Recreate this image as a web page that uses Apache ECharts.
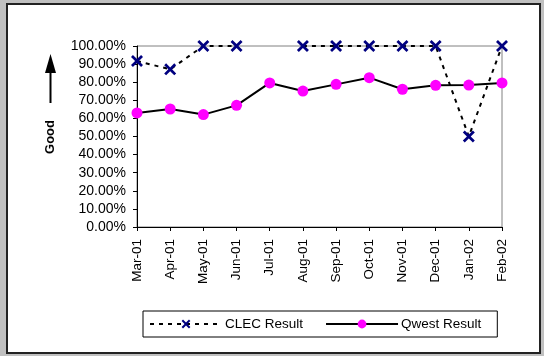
<!DOCTYPE html>
<html>
<head>
<meta charset="utf-8">
<script src="https://cdn.jsdelivr.net/npm/echarts@6/dist/echarts.min.js"></script>
<style>
html,body{margin:0;padding:0;background:#c0c0c0;}
#main{width:544px;height:356px;}
</style>
</head>
<body>
<div id="main"></div>
<script>
var months = ['Mar-01','Apr-01','May-01','Jun-01','Jul-01','Aug-01','Sep-01','Oct-01','Nov-01','Dec-01','Jan-02','Feb-02'];
var clecResult = [91.7, 87.1, 100, 100, null, 100, 100, 100, 100, 100, 50, 100];
var qwestResult = [63.0, 65.2, 62.1, 67.2, 79.6, 75.1, 78.8, 82.5, 76.1, 78.3, 78.4, 79.6];
var yTicks = [0, 10, 20, 30, 40, 50, 60, 70, 80, 90, 100];

var font = 'Arial, "Liberation Sans", sans-serif';
var crossPath = 'path://M0,1.6L1.6,0L5,3.4L8.4,0L10,1.6L6.6,5L10,8.4L8.4,10L5,6.6L1.6,10L0,8.4L3.4,5Z';

var myChart = echarts.init(document.getElementById('main'));

var option = {
    backgroundColor: '#c0c0c0',
    animation: false,
    graphic: [
        {
            type: 'rect',
            z: -10,
            shape: {x: 7, y: 4, width: 533, height: 349},
            style: {fill: '#fff', stroke: '#222', lineWidth: 2}
        },
        {
            type: 'line',
            shape: {x1: 50.5, y1: 70, x2: 50.5, y2: 103},
            style: {stroke: '#000', lineWidth: 2}
        },
        {
            type: 'polygon',
            shape: {points: [[45, 73], [56, 73], [50.5, 54]]},
            style: {fill: '#000'}
        },
        {
            type: 'text',
            x: 50,
            y: 137,
            rotation: Math.PI / 2,
            style: {
                text: 'Good',
                font: 'bold 13px ' + font,
                fill: '#000',
                align: 'center',
                verticalAlign: 'middle'
            }
        }
    ],
    grid: {
        left: 137,
        right: 42,
        top: 46,
        bottom: 129,
        show: true,
        backgroundColor: 'transparent',
        borderColor: '#808080',
        borderWidth: 1
    },
    legend: {
        left: 143,
        top: 311,
        padding: [6, 16, 6, 6],
        borderColor: '#000',
        borderWidth: 1,
        itemWidth: 72,
        itemHeight: 11,
        itemGap: 22,
        textStyle: {fontFamily: font, fontSize: 13.5, color: '#000', padding: [0, 0, 0, -2]},
        data: ['CLEC Result', 'Qwest Result']
    },
    xAxis: {
        type: 'category',
        data: months,
        boundaryGap: false,
        axisLine: {lineStyle: {color: '#000', width: 1}},
        axisTick: {alignWithLabel: true, length: 4, lineStyle: {color: '#000'}},
        axisLabel: {rotate: 90, margin: 12, fontFamily: font, fontSize: 13.5, color: '#000'},
        splitLine: {show: false}
    },
    yAxis: {
        type: 'value',
        min: 0,
        max: 100,
        interval: 10,
        axisLine: {show: true, lineStyle: {color: '#000', width: 1}},
        axisTick: {show: true, length: 4, lineStyle: {color: '#000'}},
        axisLabel: {
            margin: 11,
            fontFamily: font,
            fontSize: 14,
            color: '#000',
            formatter: function (v) { return yTicks.indexOf(v) >= 0 ? v.toFixed(2) + '%' : ''; }
        },
        splitLine: {show: false}
    },
    series: [
        {
            name: 'CLEC Result',
            type: 'line',
            data: clecResult,
            connectNulls: false,
            symbol: crossPath,
            symbolSize: 12,
            showAllSymbol: true,
            z: 3,
            lineStyle: {color: '#000', width: 2, type: [4, 5]},
            itemStyle: {color: '#000080', borderWidth: 0}
        },
        {
            name: 'Qwest Result',
            type: 'line',
            data: qwestResult,
            symbol: 'circle',
            symbolSize: 11,
            showAllSymbol: true,
            z: 4,
            lineStyle: {color: '#000', width: 2},
            itemStyle: {color: '#ff00ff', borderWidth: 0}
        }
    ]
};
myChart.setOption(option);
</script>
</body>
</html>
